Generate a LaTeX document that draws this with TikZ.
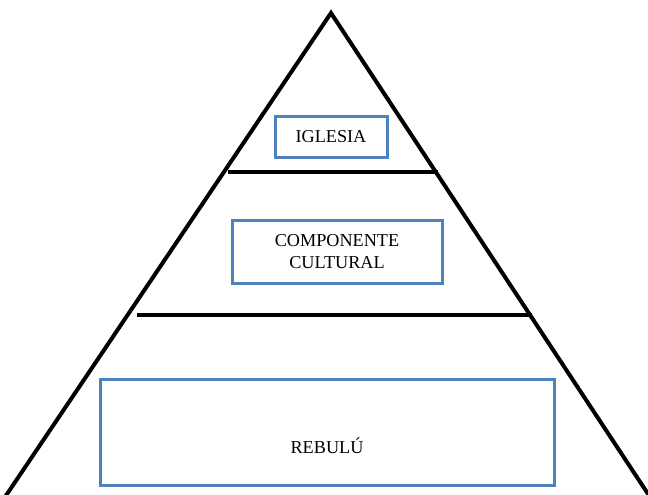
\documentclass[tikz,border=0pt]{standalone}
\usepackage{fontspec}
\setmainfont{Liberation Serif}
\definecolor{boxblue}{RGB}{79,129,189}

\tikzstyle{every node}=[font=\fontsize{18.2}{22}\selectfont]
\tikzstyle{tierbox}=[draw=boxblue, line width=3pt, fill=white, inner sep=0pt, align=center]

\begin{document}
\begin{tikzpicture}[x=1pt,y=-1pt]
    \useasboundingbox (0,0) rectangle (648,495);
    \coordinate (top) at (331,13);
    \coordinate (bl) at (3,500);
    \coordinate (br) at (652,500);
    \coordinate (t1l) at (228,172);
    \coordinate (t1r) at (438,172);
    \coordinate (t2l) at (137,315);
    \coordinate (t2r) at (532,315);
    \path[draw,line width=4pt,line join=miter]
    (bl) -- (top) -- (br)
    ;
    \path[draw,line width=4pt]
    (t1l) edge (t1r)
    (t2l) edge (t2r)
	;
    \node[tierbox, minimum width=112pt, minimum height=41pt] (iglesia) at (331,137) {IGLESIA};
    \node[tierbox, minimum width=210pt, minimum height=63pt] (componente) at (337,251.5) {COMPONENTE\\CULTURAL};
    \node[tierbox, minimum width=454pt, minimum height=106pt, text height=42pt, text depth=0pt] (rebulu) at (327,432) {REBULÚ};
  \end{tikzpicture}
\end{document}
